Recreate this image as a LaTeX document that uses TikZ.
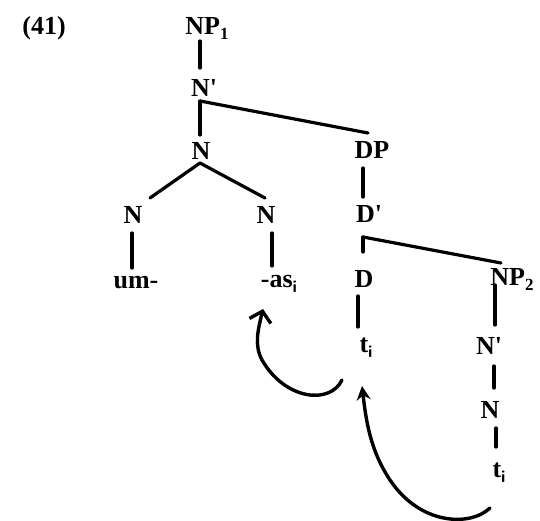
\documentclass[tikz,border=0pt]{standalone}
\usepackage{fontspec}
\setmainfont{Liberation Serif}
\usetikzlibrary{arrows.meta}
\newcommand{\pr}{\textquotesingle}
\newcommand{\sbx}[1]{\raisebox{-5pt}{\fontsize{17}{18}\selectfont #1}}
\begin{document}
\begin{tikzpicture}[x=1pt,y=-1pt,
  lab/.style={font=\fontsize{26}{28}\selectfont\bfseries, inner sep=0pt, anchor=center},
  br/.style={line width=3.2pt, line cap=round},
  mv/.style={line width=3.4pt, line cap=round}]
\useasboundingbox (0,0) rectangle (540,521);
\node[lab] (ex) at (44,28) {(41)};
\node[lab] (np1) at (207,28) {NP\sbx{1}};
\node[lab] (nbar) at (204,88) {N\pr};
\node[lab] (n) at (201,151) {N};
\node[lab] (dp) at (372,150) {DP};
\node[lab] (dbar) at (369,214) {D\pr};
\node[lab] (d) at (364,279) {D};
\node[lab] (np2) at (512,279) {NP\sbx{2}};
\node[lab] (nl) at (133,215) {N};
\node[lab] (nr) at (266,215) {N};
\node[lab] (um) at (136,283) {um-};
\node[lab] (as) at (279,284) {-as\sbx{\sffamily i}};
\node[lab] (t1) at (366,348) {t\sbx{\sffamily i}};
\node[lab] (nbar2) at (489,346) {N\pr};
\node[lab] (n2) at (490,410) {N};
\node[lab] (t2) at (499,473) {t\sbx{\sffamily i}};
\coordinate (nbarb) at (200,101);
\coordinate (dbarb) at (363,237);
% branches
\draw[br] (200,41) -- (200,68);
\draw[br] (nbarb) -- (200,135);
\draw[br] (nbarb) -- (368,133);
\draw[br] (363,168) -- (363,197);
\draw[br] (dbarb) -- (363,252);
\draw[br] (dbarb) -- (501,263);
\draw[br] (200,163) -- (150,198);
\draw[br] (200,163) -- (265,198);
\draw[br] (132,233) -- (132,268);
\draw[br] (272,233) -- (272,266);
\draw[br] (358,296) -- (358,327);
\draw[br] (495,285) -- (495,325);
\draw[br] (494,366) -- (494,388);
\draw[br] (496,428) -- (496,447);
% movement arrows
\draw[mv, -{Straight Barb[length=10pt,width=22pt,line width=3.4pt]}] (342,380) .. controls (330,405) and (285,400) .. (262,360) .. controls (254,345) and (258,330) .. (263,309);
\draw[mv, -{Stealth[length=14pt,width=14pt]}] (490,508) .. controls (470,527) and (420,525) .. (390,480) .. controls (370,450) and (366,420) .. (362,386);
\end{tikzpicture}
\end{document}
